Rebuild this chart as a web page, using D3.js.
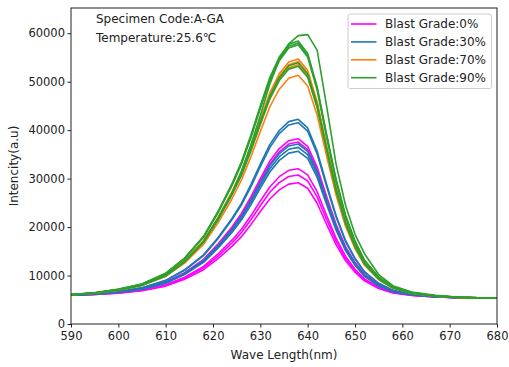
<!DOCTYPE html>
<html>
<head>
<meta charset="utf-8">
<script src="https://cdn.jsdelivr.net/npm/d3@7/dist/d3.min.js"></script>
<style>
  body { margin: 0; background: #fff; }
  text { font-family: "DejaVu Sans", sans-serif; fill: #222; }
</style>
</head>
<body>
<div id="chart"></div>
<script>
// sampled wavelengths (nm)
const waveLength = [590, 595, 600, 605, 610, 614, 618, 621, 624, 626, 628, 630, 632, 634, 636, 638, 640, 642, 644, 646, 648, 650, 652, 655, 658, 662, 667, 672, 680];

// Blast Grade:0%
const grade0 = [
  [5960, 6200, 6630, 7290, 8640, 10580, 13340, 16440, 20020, 22800, 26230, 29990, 33580, 36190, 37820, 38230, 36650, 32380, 26310, 20560, 15960, 12680, 10210, 8070, 6810, 6070, 5640, 5450, 5300],
  [5960, 6190, 6610, 7260, 8580, 10480, 13170, 16210, 19720, 22430, 25790, 29470, 32980, 35540, 37130, 37540, 35990, 31810, 25870, 20240, 15740, 12520, 10110, 8020, 6780, 6050, 5640, 5450, 5300],
  [5930, 6120, 6460, 7000, 8080, 9650, 11880, 14400, 17300, 19540, 22320, 25370, 28280, 30390, 31710, 32050, 30760, 27300, 22380, 17710, 13980, 11310, 9310, 7580, 6550, 5940, 5590, 5430, 5300],
  [5930, 6100, 6420, 6930, 7960, 9460, 11580, 13970, 16720, 18860, 21500, 24400, 27170, 29180, 30430, 30750, 29530, 26230, 21550, 17110, 13560, 11030, 9120, 7470, 6490, 5920, 5580, 5430, 5300],
  [5920, 6080, 6380, 6860, 7820, 9220, 11200, 13440, 16020, 18020, 20500, 23210, 25800, 27680, 28860, 29150, 28010, 24920, 20530, 16370, 13050, 10680, 8890, 7340, 6420, 5880, 5570, 5420, 5300]
];

// Blast Grade:30%
const grade30 = [
  [5980, 6250, 6730, 7480, 9000, 11180, 14280, 17760, 21780, 24900, 28750, 32970, 37000, 39930, 41760, 42230, 40450, 35660, 28850, 22400, 17240, 13560, 10790, 8390, 6970, 6150, 5670, 5460, 5300],
  [5980, 6240, 6710, 7450, 8940, 11080, 14110, 17530, 21480, 24530, 28310, 32450, 36400, 39280, 41070, 41530, 39790, 35090, 28410, 22080, 17020, 13400, 10690, 8340, 6940, 6130, 5670, 5460, 5300],
  [5960, 6180, 6600, 7240, 8540, 10420, 13080, 16080, 19540, 22220, 25540, 29170, 32640, 35160, 36740, 37140, 35610, 31480, 25610, 20050, 15610, 12440, 10050, 7980, 6760, 6040, 5630, 5450, 5300],
  [5960, 6170, 6580, 7210, 8480, 10310, 12920, 15850, 19230, 21850, 25100, 28650, 32040, 34510, 36050, 36440, 34940, 30910, 25170, 19730, 15390, 12280, 9950, 7930, 6730, 6030, 5630, 5440, 5300],
  [5950, 6160, 6550, 7170, 8400, 10190, 12730, 15580, 18880, 21430, 24590, 28050, 31360, 33760, 35260, 35640, 34180, 30250, 24660, 19360, 15130, 12110, 9830, 7860, 6700, 6010, 5620, 5440, 5300]
];

// Blast Grade:70%
const grade70 = [
  [6050, 6410, 7070, 8080, 10120, 13060, 17220, 21890, 27280, 31460, 36620, 42280, 47690, 51620, 54070, 54700, 52330, 45910, 36790, 28150, 21240, 16310, 12600, 9390, 7500, 6400, 5770, 5500, 5300],
  [6040, 6400, 7050, 8060, 10070, 12970, 17080, 21690, 27020, 31150, 36250, 41830, 47170, 51060, 53480, 54100, 51760, 45420, 36410, 27870, 21050, 16180, 12520, 9340, 7470, 6380, 5770, 5500, 5300],
  [6040, 6400, 7040, 8030, 10020, 12880, 16930, 21490, 26760, 30830, 35870, 41390, 46660, 50500, 52890, 53500, 51190, 44930, 36030, 27600, 20860, 16040, 12430, 9300, 7450, 6370, 5760, 5490, 5300],
  [6030, 6370, 6980, 7920, 9820, 12550, 16420, 20760, 25790, 29680, 34480, 39750, 44780, 48440, 50720, 51310, 49100, 43130, 34630, 26590, 20160, 15560, 12110, 9120, 7360, 6330, 5750, 5490, 5300]
];

// Blast Grade:90%
const grade90 = [
  [6070, 6460, 7170, 8260, 10460, 13610, 18090, 23110, 28910, 33400, 38960, 45040, 50850, 55080, 57720, 58390, 55840, 48950, 39140, 29850, 22430, 17120, 13140, 9690, 7650, 6470, 5800, 5510, 5300],
  [6060, 6450, 7160, 8240, 10420, 13550, 17990, 22980, 28740, 33190, 38700, 44740, 50510, 54700, 57320, 58000, 55460, 48620, 38890, 29670, 22300, 17030, 13080, 9660, 7640, 6460, 5800, 5510, 5300],
  [6060, 6450, 7150, 8220, 10380, 13490, 17900, 22840, 28560, 32980, 38450, 44440, 50170, 54330, 56930, 57600, 55080, 48290, 38630, 29480, 22170, 16950, 13020, 9620, 7620, 6450, 5800, 5510, 5300],
  [6040, 6400, 7050, 8050, 10050, 12940, 17030, 21620, 26930, 31040, 36120, 41680, 47000, 50870, 53280, 53900, 51570, 45260, 36280, 27780, 20990, 16130, 12490, 9330, 7470, 6380, 5770, 5500, 5300],
  [6040, 6390, 7030, 8010, 9990, 12830, 16860, 21390, 26620, 30670, 35680, 41160, 46410, 50220, 52590, 53200, 50900, 44680, 35840, 27460, 20760, 15980, 12390, 9270, 7440, 6370, 5760, 5490, 5300],
  [6040, 6350, 7000, 8000, 9900, 12800, 17000, 21800, 27000, 31500, 37000, 43000, 49500, 54500, 57800, 59500, 59700, 56500, 45000, 33000, 24500, 18500, 14500, 10200, 7900, 6600, 5900, 5530, 5300]
];

const gradeLabels = ["Blast Grade:0%", "Blast Grade:30%", "Blast Grade:70%", "Blast Grade:90%"];
const gradeColors = ["#ff00ff", "#1f77b4", "#ff7f0e", "#2ca02c"];
const xTicks = [590, 600, 610, 620, 630, 640, 650, 660, 670, 680];
const yTicks = [0, 10000, 20000, 30000, 40000, 50000, 60000];

const width = 509, height = 367;
const margin = { top: 8, right: 12, bottom: 43, left: 71 };
const innerW = width - margin.left - margin.right;
const innerH = height - margin.top - margin.bottom;

const svg = d3.select("#chart").append("svg")
  .attr("width", width)
  .attr("height", height);

const g = svg.append("g")
  .attr("transform", "translate(" + margin.left + "," + margin.top + ")");

const x = d3.scaleLinear().domain([590, 680]).range([0, innerW]);
const y = d3.scaleLinear().domain([0, 65200]).range([innerH, 0]);

g.append("clipPath").attr("id", "plotClip")
  .append("rect").attr("width", innerW).attr("height", innerH);

const line = d3.line()
  .x((d, i) => x(waveLength[i]))
  .y(d => y(d));

const groups = [grade0, grade30, grade70, grade90];
const plot = g.append("g").attr("clip-path", "url(#plotClip)");
groups.forEach((curves, k) => {
  plot.selectAll(".curve" + k)
    .data(curves)
    .enter()
    .append("path")
    .attr("class", "curve" + k)
    .attr("d", line)
    .attr("fill", "none")
    .attr("stroke", gradeColors[k])
    .attr("stroke-width", 1.6)
    .attr("stroke-linejoin", "round");
});

// axes
const xAxis = g.append("g")
  .attr("transform", "translate(0," + innerH + ")")
  .call(d3.axisBottom(x).tickValues(xTicks).tickSize(3.5).tickPadding(4.5).tickFormat(d3.format("d")));
const yAxis = g.append("g")
  .call(d3.axisLeft(y).tickValues(yTicks).tickSize(3.5).tickPadding(2.5).tickFormat(d3.format("d")));
[xAxis, yAxis].forEach(a => {
  a.select(".domain").remove();
  a.selectAll("line").attr("stroke", "#222");
  a.selectAll("text").style("font-size", "11.5px").attr("fill", "#222");
});

// frame
g.append("rect")
  .attr("width", innerW)
  .attr("height", innerH)
  .attr("fill", "none")
  .attr("stroke", "#222")
  .attr("stroke-width", 1);

// axis titles
svg.append("text")
  .attr("x", margin.left + innerW / 2)
  .attr("y", 359)
  .attr("text-anchor", "middle")
  .style("font-size", "12px")
  .text("Wave Length(nm)");
svg.append("text")
  .attr("transform", "translate(18," + (margin.top + innerH / 2) + ") rotate(-90)")
  .attr("text-anchor", "middle")
  .style("font-size", "12px")
  .text("Intencity(a.u)");

// annotations
g.append("text").attr("x", 25).attr("y", 15).style("font-size", "12px").text("Specimen Code:A-GA");
g.append("text").attr("x", 25).attr("y", 33.5).style("font-size", "12px").text("Temperature:25.6℃");

// legend
const legend = svg.append("g").attr("transform", "translate(348,14)");
legend.append("rect")
  .attr("width", 143.5)
  .attr("height", 74.5)
  .attr("rx", 2)
  .attr("fill", "#fff")
  .attr("fill-opacity", 0.8)
  .attr("stroke", "#ccc");
const items = legend.selectAll(".item")
  .data(gradeLabels)
  .enter()
  .append("g")
  .attr("class", "item")
  .attr("transform", (d, i) => "translate(0," + (10 + i * 17.9) + ")");
items.append("line")
  .attr("x1", 3).attr("x2", 28.5)
  .attr("stroke", (d, i) => gradeColors[i])
  .attr("stroke-width", 1.6);
items.append("text")
  .attr("x", 37)
  .attr("dy", "0.36em")
  .style("font-size", "12px")
  .text(d => d);
</script>
</body>
</html>
